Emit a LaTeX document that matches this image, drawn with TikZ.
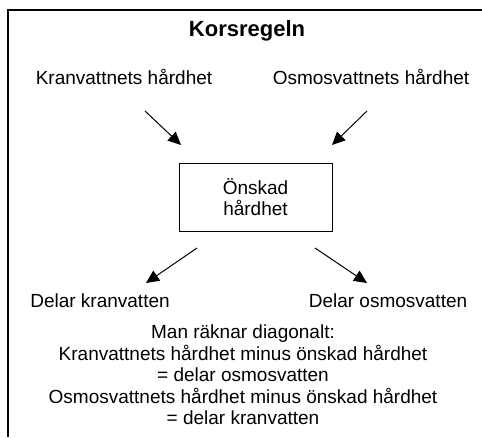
\documentclass[tikz,border=0pt]{standalone}
\usepackage{fontspec}
\setmainfont{Liberation Sans}
\usetikzlibrary{arrows.meta}
\begin{document}
\begin{tikzpicture}[x=1pt,y=-1pt,
  lbl/.style={inner sep=0pt,font=\fontsize{19}{22}\selectfont,align=center},
  flow/.style={line width=1pt,-{Triangle[length=13pt,width=12pt]}},
  frame/.style={line width=1.2pt}]
\useasboundingbox (0,0) rectangle (482,437);
% open frame: top and left edges
\draw[frame] (8,437) -- (8,10) -- (482,10);
\node[lbl,font=\bfseries\fontsize{22}{24}\selectfont] (title) at (247,31) {Korsregeln};
\node[lbl] (kran) at (124,77) {Kranvattnets hårdhet};
\node[lbl] (osmo) at (371,77) {Osmosvattnets hårdhet};
\node[draw,line width=1pt,minimum width=153pt,minimum height=68pt,lbl,
      font=\fontsize{19}{21}\selectfont] (goal) at (255.5,197) {Önskad\\hårdhet};
\node[lbl] (dk) at (100,301) {Delar kranvatten};
\node[lbl] (do) at (388,301) {Delar osmosvatten};
\node[lbl,font=\fontsize{19}{21.5}\selectfont] (rule) at (243,375)
  {Man räknar diagonalt:\\Kranvattnets hårdhet minus önskad hårdhet\\= delar osmosvatten\\Osmosvattnets hårdhet minus önskad hårdhet\\= delar kranvatten};
% arrow end points
\coordinate (a1s) at (145,111); \coordinate (a1e) at (181,145);
\coordinate (a2s) at (367,111); \coordinate (a2e) at (332,145);
\coordinate (a3s) at (197,248); \coordinate (a3e) at (146,283);
\coordinate (a4s) at (315,248); \coordinate (a4e) at (367,283);
\draw[flow] (a1s) -- (a1e);
\draw[flow] (a2s) -- (a2e);
\draw[flow] (a3s) -- (a3e);
\draw[flow] (a4s) -- (a4e);
\end{tikzpicture}
\end{document}
